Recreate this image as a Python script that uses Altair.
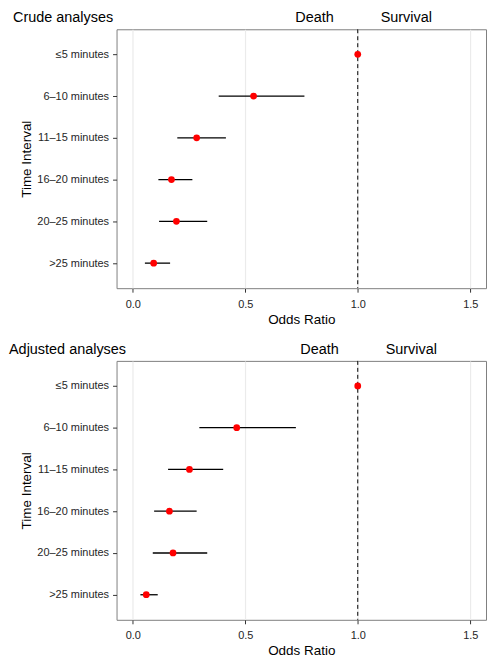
import altair as alt
import pandas as pd

categories = ["≤5 minutes", "6–10 minutes", "11–15 minutes",
              "16–20 minutes", "20–25 minutes", ">25 minutes"]

crude_or = [1.0, 0.537, 0.284, 0.172, 0.194, 0.093]
crude_lo = [None, 0.382, 0.198, 0.114, 0.117, 0.054]
crude_hi = [None, 0.763, 0.414, 0.265, 0.331, 0.166]

adj_or = [1.0, 0.462, 0.252, 0.163, 0.179, 0.060]
adj_lo = [None, 0.296, 0.157, 0.095, 0.089, 0.034]
adj_hi = [None, 0.725, 0.402, 0.284, 0.331, 0.111]

x_ticks = [0.0, 0.5, 1.0, 1.5]
reference_or = [1.0]

FONT = "Liberation Sans"


def panel(title, ors, los, his, title_x, death_dx, surv_dx):
    df = pd.DataFrame({"cat": categories, "or": ors, "lo": los, "hi": his})
    xscale = alt.Scale(domain=[-0.072, 1.57], nice=False, zero=False)
    yscale = alt.Scale(type="point", padding=0.6, domain=categories)
    x_axis = alt.Axis(values=x_ticks, format=".1f", title="Odds Ratio")
    y_axis = alt.Axis(title="Time Interval")

    base = alt.Chart(df)
    ci = base.mark_rule(color="black", strokeWidth=1.3).encode(
        x=alt.X("lo:Q", scale=xscale, axis=x_axis),
        x2="hi:Q",
        y=alt.Y("cat:N", scale=yscale, axis=y_axis),
    )
    pts = base.mark_circle(color="red", size=46, opacity=1).encode(
        x=alt.X("or:Q", scale=xscale, axis=x_axis),
        y=alt.Y("cat:N", scale=yscale, axis=y_axis),
    )
    ref = alt.Chart(pd.DataFrame({"ref": reference_or}))
    vline = ref.mark_rule(color="black", strokeDash=[4, 3], strokeWidth=1).encode(
        x=alt.X("ref:Q", scale=xscale, axis=x_axis)
    )
    txt = dict(baseline="bottom", font=FONT, fontSize=14.5, color="black")
    death = ref.mark_text(text="Death", align="right", dx=death_dx, **txt).encode(
        x=alt.X("ref:Q", scale=xscale, axis=x_axis), y=alt.value(-4)
    )
    surv = ref.mark_text(text="Survival", align="left", dx=surv_dx, **txt).encode(
        x=alt.X("ref:Q", scale=xscale, axis=x_axis), y=alt.value(-4)
    )
    head = ref.mark_text(text=title, align="left", **txt).encode(
        x=alt.value(title_x), y=alt.value(-4)
    )
    return alt.layer(ci, vline, pts, death, surv, head).properties(
        width=371, height=260,
    )


top = panel("Crude analyses", crude_or, crude_lo, crude_hi, -104, -24, 23)
bottom = panel("Adjusted analyses", adj_or, adj_lo, adj_hi, -108, -19, 28)

chart = alt.vconcat(top, bottom, spacing=15).properties(
    padding={"top": 0, "left": 0, "right": 0, "bottom": 0}
).configure_view(
    stroke="#7f7f7f", strokeWidth=1
).configure_axis(
    domain=False, gridColor="#ebebeb", gridWidth=1.2,
    tickColor="#333333", tickSize=4,
    labelColor="#262626", labelFontSize=11, labelFont=FONT,
    titleFont=FONT, titleFontSize=13.5, titleFontWeight="normal", titleColor="black",
).configure_axisX(
    labelPadding=6, titlePadding=3
).configure_axisY(
    labelPadding=4, titlePadding=3
)

chart.save("out.html", embed_options={"renderer": "svg", "actions": False})
